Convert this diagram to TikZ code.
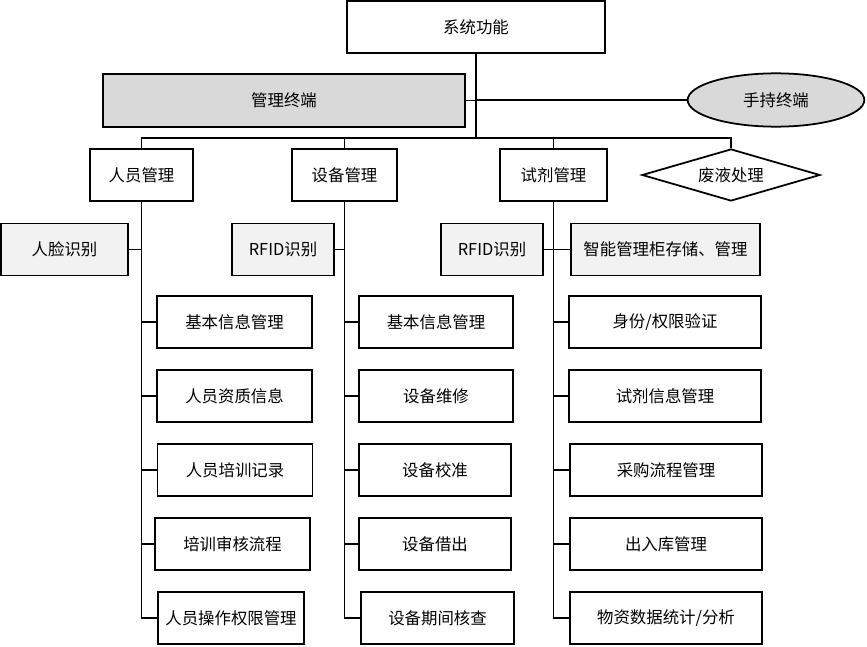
\documentclass[tikz,border=0pt]{standalone}
\usepackage{fontspec}
\newfontfamily\cjk{Noto Sans CJK SC}
\usetikzlibrary{shapes.geometric,positioning}
\definecolor{termgray}{HTML}{D9D9D9}
\definecolor{idgray}{HTML}{F2F2F2}
\tikzset{
  fbox/.style={draw,line width=1.5pt,minimum height=1.56cm,inner sep=2pt,
    font=\cjk\fontsize{14}{17}\selectfont},
  catbox/.style={fbox,minimum width=3.1cm},
  idbox/.style={fbox,fill=idgray},
  subbox/.style={fbox,minimum width=4.65cm},
  rgtbox/.style={fbox,minimum width=5.76cm},
  wire/.style={draw,line width=1.5pt},
}

\begin{document}
\begin{tikzpicture}[x=0.03cm,y=-0.03cm]
\useasboundingbox (0,0) rectangle (867,647);

\node[fbox,minimum width=7.74cm] (sys) at (476,27) {系统功能};
\node[fbox,fill=termgray,minimum width=10.86cm,minimum height=1.59cm] (term) at (284,100.5) {管理终端};
\node[ellipse,draw,line width=1.5pt,fill=termgray,minimum width=5.3cm,minimum height=1.6cm,
  font=\cjk\fontsize{14}{17}\selectfont] (hand) at (776,100) {手持终端};
\coordinate (bus) at (476,138);

\node[catbox] (pm) at (141.5,175) {人员管理};
\node[catbox,minimum width=3.15cm] (em) at (344.5,175) {设备管理};
\node[catbox,minimum width=3.2cm] (rm) at (553.5,175) {试剂管理};
\node[diamond,draw,line width=1.5pt,aspect=3.4,minimum width=5.34cm,minimum height=1.56cm,
  inner sep=0pt,font=\cjk\fontsize{14}{17}\selectfont] (wl) at (731,175) {废液处理};

% identification row
\node[idbox,minimum width=3.81cm] (face) at (64.5,249.5) {人脸识别};
\node[idbox,minimum width=3.06cm] (rfide) at (283,249.5) {RFID识别};
\node[idbox,minimum width=3.06cm] (rfidr) at (492,249.5) {RFID识别};
\node[idbox,minimum width=5.67cm] (cab) at (665.5,249.5) {智能管理柜存储、管理};

% personnel
\node[subbox] (p1) at (234.5,322) {基本信息管理};
\node[subbox] (p2) at (234.5,396) {人员资质信息};
\node[subbox] (p3) at (235,470) {人员培训记录};
\node[subbox] (p4) at (232.5,544) {培训审核流程};
\node[subbox,minimum width=4.4cm] (p5) at (231,618) {人员操作权限管理};

% equipment
\node[subbox,minimum width=4.62cm] (e1) at (436,322) {基本信息管理};
\node[subbox,minimum width=4.62cm] (e2) at (436,396) {设备维修};
\node[subbox,minimum width=4.56cm] (e3) at (435,470) {设备校准};
\node[subbox,minimum width=4.56cm] (e4) at (435,544) {设备借出};
\node[subbox,minimum width=4.59cm] (e5) at (437.5,618) {设备期间核查};

% reagents
\node[rgtbox] (r1) at (665,322) {身份/权限验证};
\node[rgtbox] (r2) at (665,396) {试剂信息管理};
\node[rgtbox] (r3) at (666,470) {采购流程管理};
\node[rgtbox] (r4) at (666,544) {出入库管理};
\node[rgtbox] (r5) at (666,618) {物资数据统计/分析};

% trunk and bus
\draw[wire] (sys.south) -- (bus);
\draw[wire] (term.east) -- (term.east -| sys.south);
\draw[wire] (hand.west) -- (hand.west -| sys.south);
\draw[wire] (pm.north) |- (bus);
\draw[wire] (wl.north) |- (bus);
\draw[wire] (em.north) -- (em.north |- bus);
\draw[wire] (rm.north) -- (rm.north |- bus);

% columns
\draw[wire] (pm.south) |- (p5.west);
\draw[wire] (em.south) |- (e5.west);
\draw[wire] (rm.south) |- (r5.west);
\draw[wire] (face.east) -- (face.east -| pm.south);
\draw[wire] (rfide.east) -- (rfide.east -| em.south);
\draw[wire] (rfidr.east) -- (cab.west);
\foreach \i in {1,...,4} {
  \draw[wire] (p\i.west) -- (p\i.west -| pm.south);
  \draw[wire] (e\i.west) -- (e\i.west -| em.south);
  \draw[wire] (r\i.west) -- (r\i.west -| rm.south);
}
\end{tikzpicture}
\end{document}
